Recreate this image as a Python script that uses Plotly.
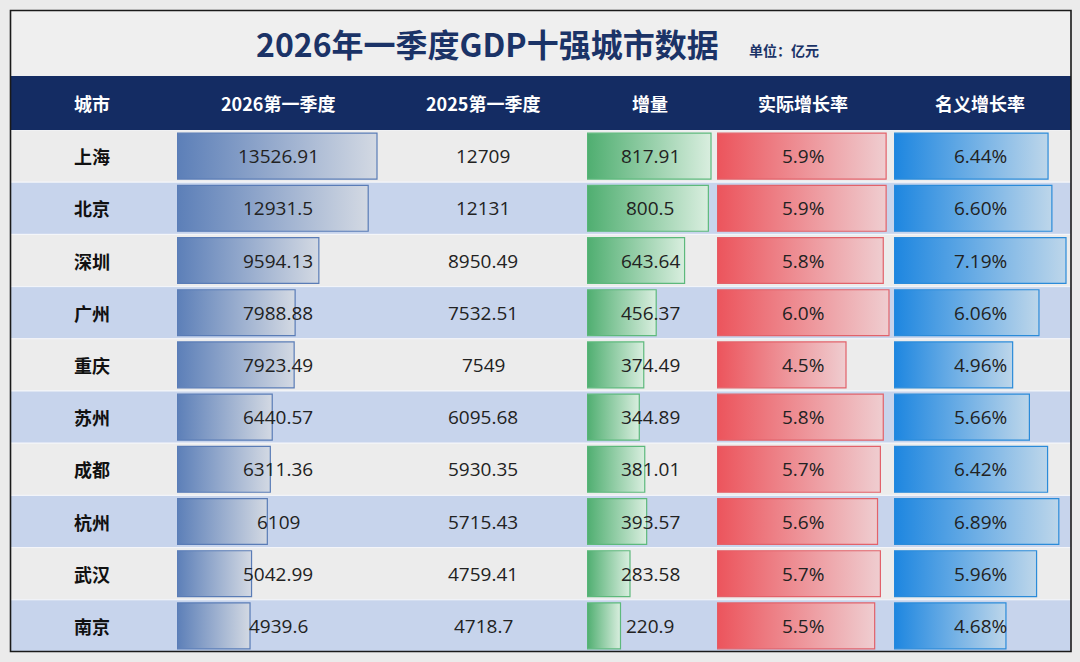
import plotly.graph_objects as go

# data (unit: 亿元)
cities = ["上海", "北京", "深圳", "广州", "重庆", "苏州", "成都", "杭州", "武汉", "南京"]
gdp_2026 = [13526.91, 12931.5, 9594.13, 7988.88, 7923.49, 6440.57, 6311.36, 6109, 5042.99, 4939.6]
gdp_2025 = [12709, 12131, 8950.49, 7532.51, 7549, 6095.68, 5930.35, 5715.43, 4759.41, 4718.7]
increase = [817.91, 800.5, 643.64, 456.37, 374.49, 344.89, 381.01, 393.57, 283.58, 220.9]
real_growth = [5.9, 5.9, 5.8, 6.0, 4.5, 5.8, 5.7, 5.6, 5.7, 5.5]
nominal_growth = [6.44, 6.60, 7.19, 6.06, 4.96, 5.66, 6.42, 6.89, 5.96, 4.68]
headers = ["城市", "2026第一季度", "2025第一季度", "增量", "实际增长率", "名义增长率"]

W, H = 1080, 662
def px(x): return x / W
def py(y): return 1 - y / H

NAVY = "#142c63"
CJK = "Noto Sans CJK SC"
NUM = "Open Sans, Noto Sans CJK SC"

def num(v):
    return ("%.2f" % v).rstrip("0").rstrip(".")

# (values, labels, axis, dark, light, border)
bar_cols = [
    (gdp_2026, [num(v) for v in gdp_2026], "x", "#5c7fb8", "#d3d9e3", "#5a7cb6"),
    (increase, [num(v) for v in increase], "x2", "#4fae70", "#d9eedf", "#5db97c"),
    (real_growth, ["%.1f%%" % v for v in real_growth], "x3", "#ec545c", "#efcdd0", "#e2626a"),
    (nominal_growth, ["%.2f%%" % v for v in nominal_growth], "x4", "#1d86e0", "#bdd6ea", "#2b8bd9"),
]
col_centers = [92, 278, 483, 650, 803, 980]
half = 0.44

fig = go.Figure()
for vals, labels, ax, dark, light, border in bar_cols:
    for i, v in enumerate(vals):
        fig.add_trace(go.Scatter(
            x=[0, v, v, 0, 0], y=[i - half, i - half, i + half, i + half, i - half],
            xaxis=ax, yaxis="y", mode="lines", fill="toself",
            fillgradient=dict(type="horizontal", colorscale=[[0, dark], [1, light]]),
            line=dict(color=border, width=1.2),
            hoverinfo="skip", showlegend=False,
        ))

shapes = [
    dict(type="rect", xref="paper", yref="paper", x0=px(10), x1=px(1071), y0=py(10), y1=py(76),
         fillcolor="#efefef", line_width=0, layer="below"),
    dict(type="rect", xref="paper", yref="paper", x0=px(10), x1=px(1071), y0=py(76), y1=py(130),
         fillcolor=NAVY, line_width=0, layer="below"),
]
for i in range(len(cities)):
    shapes.append(dict(type="rect", xref="paper", yref="y", x0=px(10), x1=px(1071),
                       y0=i - 0.5, y1=i + 0.5, fillcolor="#ececec" if i % 2 == 0 else "#c7d4ec",
                       line=dict(color="#f4f6fa", width=1), layer="below"))
shapes.append(dict(type="rect", xref="paper", yref="paper", x0=px(10.5), x1=px(1071), y0=py(10.5), y1=py(651.5),
                   line=dict(color="#1a1a1a", width=1.6), layer="above"))

def label(text, x, y, size, color, family=CJK, yref="paper"):
    return dict(text=text, x=x, y=y, xref="paper", yref=yref, xanchor="center", yanchor="middle",
                showarrow=False, font=dict(family=family, size=size, color=color))

ann = [
    label("<b>2026年一季度GDP十强城市数据</b>", px(487), py(43), 32, "#1b3367"),
    label("<b>单位：亿元</b>", px(784), py(50), 14, "#1b3367"),
]
for cx, h in zip(col_centers, headers):
    ann.append(label("<b>%s</b>" % h, px(cx), py(103), 18, "white"))
for i, c in enumerate(cities):
    ann.append(label("<b>%s</b>" % c, px(col_centers[0]), i, 18, "#111111", yref="y"))
    ann.append(label(num(gdp_2025[i]), px(col_centers[2]), i, 19, "#222222", NUM, "y"))
for k, (vals, labels, ax, dark, light, border) in enumerate(bar_cols):
    cx = col_centers[[1, 3, 4, 5][k]]
    for i, t in enumerate(labels):
        ann.append(label(t, px(cx), i, 19, "#222222", NUM, "y"))

hidden = dict(visible=False, fixedrange=True, showgrid=False, zeroline=False)
fig.update_layout(
    width=W, height=H, margin=dict(l=0, r=0, t=0, b=0),
    paper_bgcolor="#ebebeb", plot_bgcolor="rgba(0,0,0,0)",
    xaxis=dict(domain=[px(177), px(380)], range=[0, max(gdp_2026) * 203 / 200], anchor="y", **hidden),
    xaxis2=dict(domain=[px(587), px(715)], range=[0, max(increase) * 128 / 124], anchor="y", **hidden),
    xaxis3=dict(domain=[px(717), px(890)], range=[0, max(real_growth) * 173 / 172], anchor="y", **hidden),
    xaxis4=dict(domain=[px(894), px(1068)], range=[0, max(nominal_growth) * 174 / 172], anchor="y", **hidden),
    yaxis=dict(domain=[py(652), py(130)], range=[9.5, -0.5], **hidden),
    shapes=shapes, annotations=ann,
)

fig.write_html("out.html", config={"displayModeBar": False},
               post_script="document.body.style.margin='0';")
